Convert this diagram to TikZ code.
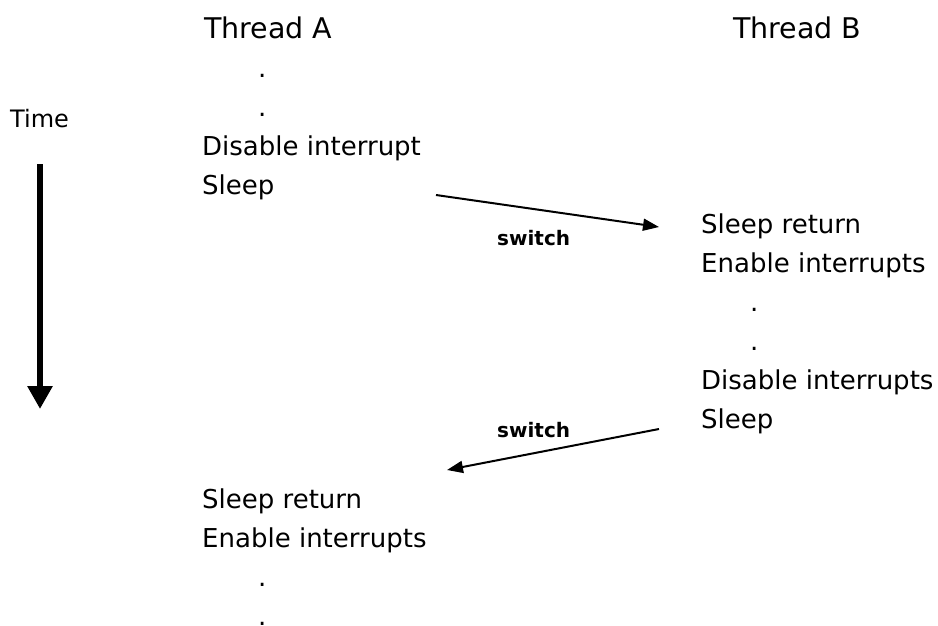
\documentclass[tikz,border=0pt]{standalone}
\usepackage{fontspec}
\setmainfont{DejaVu Sans}
\usetikzlibrary{arrows.meta}

\begin{document}
\begin{tikzpicture}[x=1pt,y=-1pt,
  txt/.style={inner sep=0pt,anchor=base west,align=left,
              font=\fontsize{26}{39}\selectfont},
  head/.style={inner sep=0pt,anchor=base west,font=\fontsize{28.5}{34}\selectfont},
  swlabel/.style={inner sep=0pt,anchor=base west,font=\fontsize{20}{24}\selectfont\bfseries},
  switcharrow/.style={-{Triangle[length=16pt,width=12pt]},line width=2pt},
  timearrow/.style={-{Triangle[length=23pt,width=24pt]},line width=6pt}]

\useasboundingbox (0,0) rectangle (938,625);

% headers
\node[head] (thA) at (204,38) {Thread A};
\node[head] (thB) at (733,38) {Thread B};
\node[inner sep=0pt,anchor=base west,font=\fontsize{24}{29}\selectfont] (time) at (10,127) {Time};

% what each thread runs (base = last line)
\node[txt] (runA1) at (202,194) {\hspace*{56pt}.\\ \hspace*{56pt}.\\ Disable interrupt\\ Sleep};
\node[txt] (runB) at (701,428) {Sleep return\\ Enable interrupts\\ \hspace*{49pt}.\\ \hspace*{49pt}.\\ Disable interrupts\\ Sleep};
\node[txt] (runA2) at (202,625) {Sleep return\\ Enable interrupts\\ \hspace*{56pt}.\\ \hspace*{56pt}.};

% ends of the switches
\coordinate (outA) at (436,195);
\coordinate (inB)  at (659,227);
\coordinate (outB) at (659,429);
\coordinate (inA)  at (447,470);
\coordinate (tTop) at (40,164);
\coordinate (tEnd) at (40,409);

\draw[switcharrow] (outA) -- (inB);
\draw[switcharrow] (outB) -- (inA);
\node[swlabel] (sw1) at (497,245) {switch};
\node[swlabel] (sw2) at (497,437) {switch};

\draw[timearrow] (tTop) -- (tEnd);

\end{tikzpicture}
\end{document}
